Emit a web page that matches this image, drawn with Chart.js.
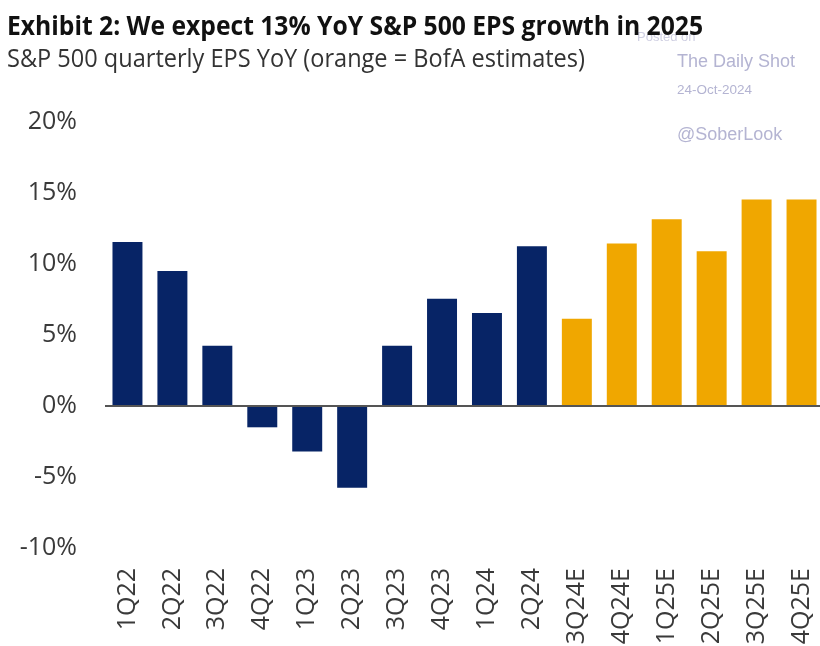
<!DOCTYPE html>
<html>
<head>
<meta charset="utf-8">
<script src="https://cdn.jsdelivr.net/npm/chart.js@4.4.1/dist/chart.umd.min.js"></script>
<style>
  html, body { margin: 0; padding: 0; background: #fff; overflow: hidden; }
  #wrap { position: relative; width: 820px; height: 646px; overflow: hidden; }
  #chartBox { position: absolute; left: 0; top: 0; width: 824px; height: 646px; }
  .txt { position: absolute; white-space: nowrap; transform-origin: 0 0; line-height: 1; }
  #title { left: 7px; top: 6px; font: 700 27px "Open Sans", sans-serif; color: #111; z-index: 3; }
  #subtitle { left: 7px; top: 40px; font: 400 25px "Open Sans", sans-serif; color: #333; z-index: 3; }
  .wm { font-family: "Liberation Sans", Arial, sans-serif; color: #b4b4d2; z-index: 1; }
</style>
</head>
<body>
<div id="wrap">
  <div class="txt wm" style="left:637px;top:30px;font-size:13px;color:#cfcfe2">Posted on</div>
  <div class="txt wm" style="left:677px;top:52px;font-size:18px">The Daily Shot</div>
  <div class="txt wm" style="left:677px;top:83px;font-size:13.5px">24-Oct-2024</div>
  <div class="txt wm" style="left:677px;top:125px;font-size:18px">@SoberLook</div>
  <div class="txt" id="title" data-w="696">Exhibit 2: We expect 13% YoY S&amp;P 500 EPS growth in 2025</div>
  <div class="txt" id="subtitle" data-w="578">S&amp;P 500 quarterly EPS YoY (orange = BofA estimates)</div>
  <div id="chartBox"><canvas id="epsChart"></canvas></div>
</div>
<script>
// ── Data ─────────────────────────────────────────────────────────
const quarters = ["1Q22", "2Q22", "3Q22", "4Q22", "1Q23", "2Q23", "3Q23", "4Q23",
                  "1Q24", "2Q24", "3Q24E", "4Q24E", "1Q25E", "2Q25E", "3Q25E", "4Q25E"];
const epsYoY   = [11.55, 9.5, 4.25, -1.5, -3.2, -5.75, 4.25, 7.55,
                  6.55, 11.25, 6.15, 11.45, 13.15, 10.9, 14.55, 14.55];
const yTicks   = [-10, -5, 0, 5, 10, 15, 20];

const NAVY   = "#072466";
const ORANGE = "#f0a700";

// ── Squeeze headline text to its width in the original ──────────
document.querySelectorAll("[data-w]").forEach(el => {
  const w = el.getBoundingClientRect().width;
  el.style.transform = `scaleX(${Number(el.dataset.w) / w})`;
});

const ctx = document.getElementById("epsChart").getContext("2d");

new Chart(ctx, {
  type: "bar",
  data: {
    labels: quarters,
    datasets: [{
      data: epsYoY,
      backgroundColor: quarters.map(q => q.endsWith("E") ? ORANGE : NAVY),
      borderWidth: 0,
      barPercentage: 0.667,
      categoryPercentage: 1,
    }],
  },
  options: {
    responsive: true,
    maintainAspectRatio: false,
    animation: false,
    layout: { padding: { top: 122, left: 0, right: 0, bottom: 0 } },
    plugins: {
      legend: { display: false },
      tooltip: { enabled: false },
    },
    scales: {
      x: {
        grid: { display: false, drawTicks: false },
        border: { display: false },
        ticks: {
          color: "#3a3a3a",
          font: { family: "'Open Sans', sans-serif", size: 25 },
          minRotation: 90,
          maxRotation: 90,
          padding: 20,
          autoSkip: false,
        },
        // fixed band for the labels, and no extra room for the last label
        afterFit: s => { s.height = 98; s.paddingLeft = 0; s.paddingRight = 0; },
      },
      y: {
        min: -10,
        max: 20,
        z: 1,
        afterBuildTicks: s => { s.ticks = yTicks.map(v => ({ value: v })); },
        grid: {
          drawTicks: false,
          color: c => c.tick && c.tick.value === 0 ? "#555" : "rgba(0,0,0,0)",
          lineWidth: 2,
        },
        border: { display: false },
        ticks: {
          color: "#3a3a3a",
          font: { family: "'Open Sans', sans-serif", size: 25 },
          padding: 28,
          callback: v => v + "%",
        },
        afterFit: s => { s.width = 105; },
      },
    },
  },
});
</script>
</body>
</html>
